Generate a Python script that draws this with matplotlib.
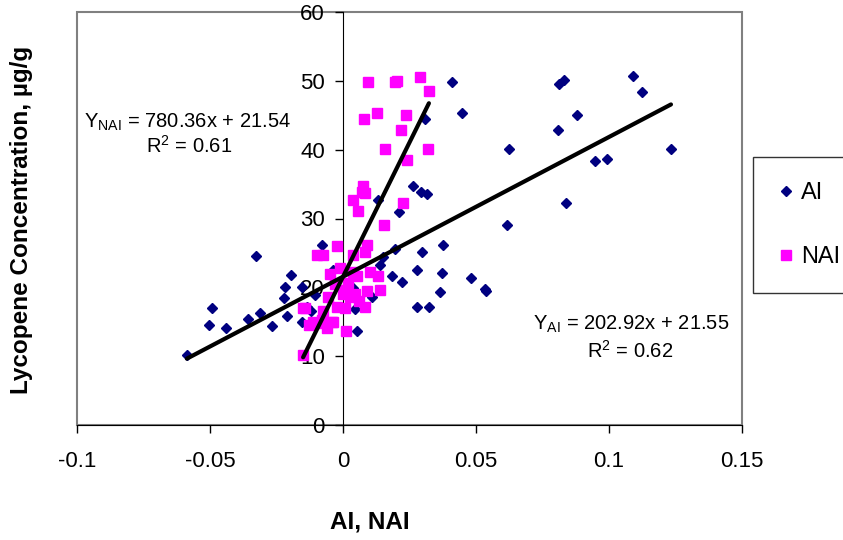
import numpy as np
import matplotlib.pyplot as plt
from matplotlib.patches import Rectangle

plt.rcParams['font.family'] = ['Liberation Sans', 'DejaVu Sans']
plt.rcParams['mathtext.fontset'] = 'custom'
plt.rcParams['mathtext.rm'] = 'Liberation Sans'
plt.rcParams['mathtext.it'] = 'Liberation Sans:italic'

# AI series
ai_x = [-0.0587, -0.0505, -0.0491, -0.0439, -0.0356, -0.0328, -0.0313, -0.0266,
        -0.0222, -0.0217, -0.0209, -0.0195, -0.0154, -0.0137, -0.0154, -0.0120,
        -0.0106, -0.0078, -0.0039, 0.0038, 0.0046, 0.0051, 0.0026, 0.0108,
        0.0139, 0.0183, 0.0221, 0.0277, 0.0277, 0.0133, 0.0212, 0.0264,
        0.0294, 0.0317, 0.0308, 0.0409, 0.0449, 0.0377, 0.0196, 0.0298,
        0.0371, 0.0481, 0.0365, 0.0534, 0.0536, 0.0323, 0.0624, 0.0618,
        0.0807, 0.0813, 0.0831, 0.0837, 0.0880, 0.0947, 0.0991, 0.1089,
        0.1124, 0.1233, 0.0152]
ai_y = [10.1, 14.6, 17.0, 14.1, 15.4, 24.6, 16.3, 14.4,
        18.4, 20.0, 15.8, 21.8, 20.1, 17.2, 14.9, 16.5,
        18.9, 26.1, 22.5, 19.9, 16.9, 13.6, 20.1, 18.6,
        23.3, 21.6, 20.8, 22.5, 17.2, 32.7, 31.0, 34.7,
        33.9, 33.6, 44.4, 49.8, 45.3, 26.2, 25.6, 25.1,
        22.1, 21.4, 19.3, 19.7, 19.4, 17.1, 40.1, 29.1,
        42.9, 49.6, 50.1, 32.2, 45.0, 38.4, 38.6, 50.7,
        48.4, 40.1, 24.4]

# NAI series
nai_x = [-0.0149, -0.0143, -0.0150, -0.0127, -0.0112, -0.0097, -0.0093, -0.0080,
         -0.0076, -0.0074, -0.0061, -0.0055, -0.0049, -0.0042, -0.0036, -0.0024,
         -0.0021, -0.0011, 0.0001, 0.0008, 0.0010, 0.0011, 0.0020, 0.0026,
         0.0036, 0.0039, 0.0039, 0.0051, 0.0055, 0.0070, 0.0074, 0.0079,
         0.0083, 0.0083, 0.0083, 0.0089, 0.0089, 0.0095, 0.0102, 0.0127,
         0.0133, 0.0139, 0.0155, 0.0158, 0.0196, 0.0202, 0.0218, 0.0224,
         0.0237, 0.0239, 0.0290, 0.0318, 0.0323, 0.0045, -0.0030, 0.0060]
nai_y = [10.2, 17.0, 17.0, 14.5, 15.0, 24.7, 14.8, 15.3,
         24.7, 16.5, 14.1, 18.6, 22.0, 15.0, 14.9, 17.2,
         26.0, 22.8, 19.1, 17.0, 13.7, 19.6, 20.6, 18.6,
         32.7, 24.7, 22.3, 21.6, 31.1, 33.9, 34.7, 44.5,
         33.7, 25.1, 17.1, 26.2, 19.4, 49.8, 22.3, 45.3,
         21.6, 19.6, 29.1, 40.1, 49.8, 50.0, 42.8, 32.3,
         45.1, 38.5, 50.6, 40.1, 48.5, 19.0, 20.5, 18.0]

# linear trend lines: (slope, intercept, R^2)
ai_fit = (202.92, 21.55, 0.62)
nai_fit = (780.36, 21.54, 0.61)

fig = plt.figure(figsize=(8.43, 5.40), dpi=100)
ax = fig.add_axes([77/843, 1 - 425/540, (742 - 77)/843, (425 - 12)/540])

ax.plot(ai_x, ai_y, 'D', color='#000080', ms=5.0, mec='#000080', label='AI', zorder=3)
ax.plot(nai_x, nai_y, 's', color='#FF00FF', ms=7.0, mec='#FF00FF', label='NAI', zorder=4)

for xs, (m, b, r2) in [(ai_x, ai_fit), (nai_x, nai_fit)]:
    xl = np.array([min(xs), max(xs)])
    ax.plot(xl, m * xl + b, color='black', lw=3, solid_capstyle='round', zorder=5)

ax.set_xlim(-0.1, 0.15)
ax.set_ylim(0, 60)
ax.set_xticks([-0.1, -0.05, 0, 0.05, 0.1, 0.15])
ax.set_xticklabels(['-0.1', '-0.05', '0', '0.05', '0.1', '0.15'])
ax.set_yticks(range(0, 61, 10))

ax.spines['left'].set_position(('data', 0))
ax.spines['left'].set_color('black')
ax.spines['bottom'].set_color('black')
ax.spines['top'].set_visible(False)
ax.spines['right'].set_visible(False)
ax.add_patch(Rectangle((0, 0), 1, 1, transform=ax.transAxes, fill=False,
                       ec='#808080', lw=1.5, clip_on=False, zorder=0))
ax.tick_params(axis='both', direction='out', length=6, width=1, labelsize=16)
ax.tick_params(axis='x', pad=13)
ax.tick_params(axis='y', pad=7)

ax.text(-0.0975, 44.0, r'Y$_{\mathrm{NAI}}$ = 780.36x + 21.54', fontsize=14.5, va='center')
ax.text(-0.058, 40.5, r'R$^{2}$ = 0.61', fontsize=14.5, va='center', ha='center')
ax.text(0.0715, 14.6, r'Y$_{\mathrm{AI}}$ = 202.92x + 21.55', fontsize=14.5, va='center')
ax.text(0.108, 10.8, r'R$^{2}$ = 0.62', fontsize=14.5, va='center', ha='center')

fig.text(370/843, 1 - 522/540, 'AI, NAI', fontsize=17.5, fontweight='bold',
         ha='center', va='center')
fig.text(22/843, 1 - 220/540, 'Lycopene Concentration, µg/g', fontsize=17.5,
         fontweight='bold', rotation=90, ha='center', va='center')

leg = fig.legend(loc='upper left', bbox_to_anchor=(753/843, 1 - 157/540),
                 fontsize=17, frameon=True, fancybox=False, edgecolor='black',
                 handlelength=0.7, handletextpad=0.3, labelspacing=1.8,
                 borderpad=1.05, borderaxespad=0)
leg.get_frame().set_linewidth(1.0)

fig.savefig('out.png', dpi=100)
